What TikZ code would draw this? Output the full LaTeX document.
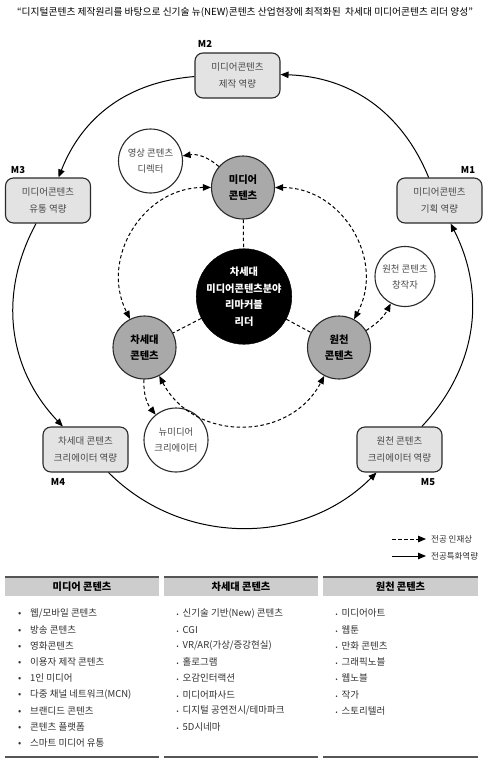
\documentclass[tikz,border=0pt]{standalone}
\usepackage{fontspec}
\setmainfont{Noto Sans CJK KR}
\usetikzlibrary{arrows.meta}
\definecolor{boxgray}{HTML}{E3E3E3}
\definecolor{circgray}{HTML}{A9A9A9}
\definecolor{hdrgray}{HTML}{CDCDCD}
\definecolor{rulegray}{HTML}{555555}
\definecolor{boxtext}{HTML}{484848}
\definecolor{itemtext}{HTML}{303030}
\definecolor{edgecol}{HTML}{2A2A2A}
\tikzset{
  mbox/.style={draw=edgecol, line width=1.1pt, fill=boxgray, rounded corners=8pt,
    minimum width=85pt, minimum height=45pt, inner sep=0pt, align=center,
    text=boxtext, font=\fontsize{9.5}{17}\selectfont},
  mlabel/.style={font=\bfseries\fontsize{9.5}{11}\selectfont, inner sep=0pt},
  gcirc/.style={circle, draw=edgecol, line width=1.1pt, fill=circgray, minimum size=63pt,
    inner sep=0pt, align=center, font=\bfseries\fontsize{10.3}{16}\selectfont},
  wcirc/.style={circle, draw=edgecol, line width=1.1pt, fill=white, minimum size=64pt,
    inner sep=0pt, align=center, text=boxtext, font=\fontsize{9.4}{16}\selectfont},
  bcirc/.style={circle, draw=black, fill=black, minimum size=92pt, inner sep=0pt,
    align=center, text=white, font=\bfseries\fontsize{10.2}{16.5}\selectfont},
  solidarr/.style={draw=black, line width=1pt, -{Triangle[length=8pt,width=6.5pt]}},
  dasharr/.style={draw=black, line width=1pt, dash pattern=on 3.5pt off 2.5pt,
    -{Triangle[length=8pt,width=6.5pt]}},
  dasharrtwo/.style={draw=black, line width=1pt, dash pattern=on 3.5pt off 2.5pt,
    {Triangle[length=8pt,width=6.5pt]}-{Triangle[length=8pt,width=6.5pt]}},
  dashline/.style={draw=black, line width=1pt, dash pattern=on 3.5pt off 2.5pt},
  hdr/.style={font=\bfseries\fontsize{10.2}{12}\selectfont, inner sep=0pt, text=black},
  item/.style={anchor=west, inner sep=0pt, text=itemtext, font=\fontsize{9.5}{11}\selectfont},
  legtext/.style={anchor=west, inner sep=0pt, text=itemtext, font=\fontsize{8.5}{10}\selectfont},
  rule/.style={draw=rulegray, line width=2.4pt}
}
\begin{document}
\begin{tikzpicture}[x=1pt,y=1pt]
\useasboundingbox (0,0) rectangle (487,-764);

% title
\node[inner sep=0pt, font=\fontsize{9.75}{11}\selectfont] (title) at (245,-12)
  {“디지털콘텐츠 제작원리를 바탕으로 신기술 뉴(NEW)콘텐츠 산업현장에 최적화된\ \ 차세대 미디어콘텐츠 리더 양성”};

% outer boxes
\node[mbox] (m2) at (237.5,-75.5) {미디어콘텐츠\\제작 역량};
\node[mbox] (m3) at (48,-200.5) {미디어콘텐츠\\유통 역량};
\node[mbox] (m1) at (439.5,-200.5) {미디어콘텐츠\\기획 역량};
\node[mbox] (m4) at (85.5,-449.5) {차세대 콘텐츠\\크리에이터 역량};
\node[mbox] (m5) at (399.5,-449.5) {원천 콘텐츠\\크리에이터 역량};
\node[mlabel] (lm2) at (205,-44) {M2};
\node[mlabel] (lm3) at (18,-170) {M3};
\node[mlabel] (lm1) at (468,-170) {M1};
\node[mlabel] (lm4) at (58,-482) {M4};
\node[mlabel] (lm5) at (428,-482) {M5};

% outer arcs
\draw[solidarr] (m1) to[bend right=33] (m2);
\draw[solidarr] (m2) to[bend right=32] (m3);
\draw[solidarr] (m3) to[bend right=36] (m4);
\draw[solidarr] (m4) to[bend right=45] (m5);
\draw[solidarr] (m5) to[bend right=35] (m1);

% inner nodes
\node[bcirc] (center) at (244,-296.5) {차세대\\미디어콘텐츠분야\\리마커블\\리더};
\node[gcirc] (media) at (243,-187.5) {미디어\\콘텐츠};
\node[gcirc] (next) at (144.5,-347.5) {차세대\\콘텐츠};
\node[gcirc] (orig) at (339,-347.5) {원천\\콘텐츠};
\node[wcirc] (dir) at (150.5,-161) {영상 콘텐츠\\디렉터};
\node[wcirc] (newm) at (176,-440) {뉴미디어\\크리에이터};
\node[wcirc, minimum size=60pt] (creator) at (405,-276.5) {원천 콘텐츠\\창작자};

% inner dashed arcs
\draw[dasharrtwo] (media) to[bend right=58.5, looseness=1.12] (next);
\draw[dasharrtwo] (next) to[bend right=62.5, looseness=1.16] (orig);
\draw[dasharrtwo] (orig) to[bend right=59, looseness=1.12] (media);

% spokes
\draw[dashline] (media) -- (center);
\draw[dashline] (center) -- (next);
\draw[dashline] (center) -- (orig);

% small arrows
\draw[dasharr] (media) to[bend right=25] (dir);
\draw[dasharr] (next) to[bend right=20] (newm);
\draw[dasharr] (orig) to[bend right=15] (creator);

% legend
\coordinate (la1) at (392,-539);
\coordinate (lb1) at (426,-539);
\coordinate (la2) at (392,-556);
\coordinate (lb2) at (426,-556);
\draw[dasharr] (la1) -- (lb1);
\draw[solidarr] (la2) -- (lb2);
\node[legtext] (lt1) at (431,-539) {전공 인재상};
\node[legtext] (lt2) at (431,-556) {전공특화역량};

% table
\foreach \xa/\xb in {5/159,164/318,323/478}{
  \fill[hdrgray] (\xa,-577) rectangle (\xb,-596);
  \draw[rule] (\xa,-577) -- (\xb,-577);
  \draw[rule] (\xa,-757) -- (\xb,-757);
}
\node[hdr] (h1) at (82,-586.5) {미디어 콘텐츠};
\node[hdr] (h2) at (241,-586.5) {차세대 콘텐츠};
\node[hdr] (h3) at (400.5,-586.5) {원천 콘텐츠};

\foreach \t [count=\i from 0] in {웹/모바일 콘텐츠,방송 콘텐츠,영화콘텐츠,이용자 제작 콘텐츠,1인 미디어,다중 채널 네트워크(MCN),브랜디드 콘텐츠,콘텐츠 플랫폼,스마트 미디어 유통}{
  \node[item] (a\i) at (18,-613.3-16.25*\i) {\makebox[12pt][l]{•}\t};
}
\foreach \t [count=\i from 0] in {신기술 기반(New) 콘텐츠,CGI,VR/AR(가상/증강현실),홀로그램,오감인터랙션,미디어파사드,디지털 공연전시/테마파크,5D시네마}{
  \node[item] (b\i) at (176.5,-613.3-16.25*\i) {\makebox[6pt][l]{\fontsize{6}{6}\selectfont •}\t};
}
\foreach \t [count=\i from 0] in {미디어아트,웹툰,만화 콘텐츠,그래픽노블,웹노블,작가,스토리텔러}{
  \node[item] (c\i) at (335.5,-613.3-16.25*\i) {\makebox[6pt][l]{\fontsize{6}{6}\selectfont •}\t};
}
\end{tikzpicture}
\end{document}
